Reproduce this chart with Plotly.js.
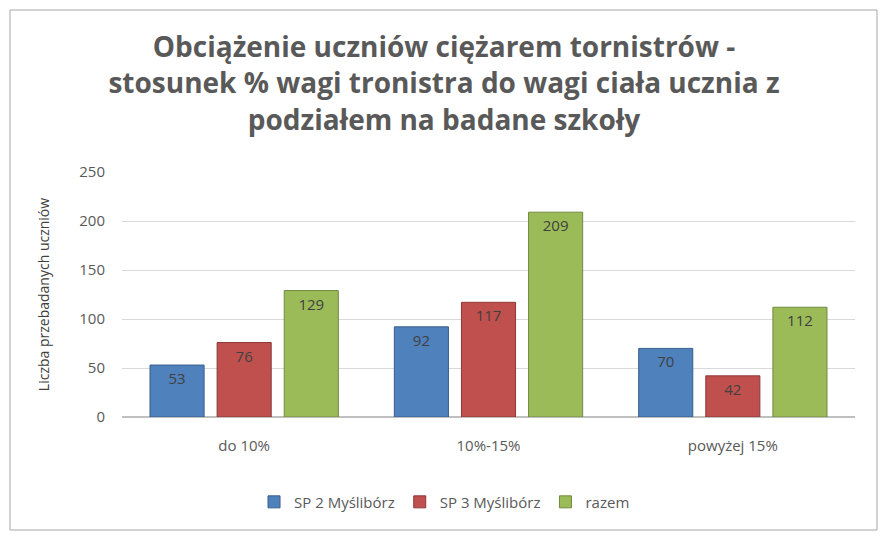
<!DOCTYPE html>
<html>
<head>
<meta charset="utf-8">
<script src="https://cdn.plot.ly/plotly-3.0.1.min.js"></script>
<style>html,body{margin:0;padding:0;background:#fff;}#chart{width:888px;height:541px;}</style>
</head>
<body>
<div id="chart"></div>
<script>
const categories = ["do 10%", "10%-15%", "powyżej 15%"];
const seriesNames = ["SP 2 Myślibórz", "SP 3 Myślibórz", "razem"];
const sp2 = [53, 92, 70];
const sp3 = [76, 117, 42];
const razem = [129, 209, 112];
const yTicks = [0, 50, 100, 150, 200, 250];

const fills = ["#4f81bd", "#c0504d", "#9bbb59"];
const lines = ["#385d8a", "#8c3836", "#71893f"];
const values = [sp2, sp3, razem];

const traces = values.map((v, i) => ({
  type: "bar",
  name: seriesNames[i],
  x: categories,
  y: v,
  text: v.map(String),
  textposition: "inside",
  insidetextanchor: "end",
  textfont: {family: "Open Sans, sans-serif", size: 15, color: "#404040"},
  marker: {color: fills[i], line: {color: lines[i], width: 1}},
  hoverinfo: "none"
}));

const L = 122, R = 33, T = 172, B = 124, W = 888 - L - R, H = 541 - T - B;
const px = x => (x - L) / W;
const py = y => (541 - B - y) / H;

const layout = {
  width: 888, height: 541,
  margin: {l: L, r: R, t: T, b: B},
  paper_bgcolor: "#ffffff", plot_bgcolor: "#ffffff",
  font: {family: "Open Sans, sans-serif", color: "#595959", size: 13},
  title: {
    text: "Obciążenie uczniów ciężarem tornistrów -<br>stosunek % wagi tronistra do wagi ciała ucznia z<br>podziałem na badane szkoły",
    font: {family: "Open Sans, sans-serif", size: 28, color: "#595959", weight: "bold"},
    x: 0.5, xanchor: "center", y: 0.895, yanchor: "top"
  },
  barmode: "group", bargap: 0.176, bargroupgap: 0.194,
  showlegend: true,
  legend: {orientation: "h", x: 0.44, xanchor: "center", y: -0.28, yanchor: "top",
           font: {size: 15, color: "#595959"}, itemwidth: 30, traceorder: "normal"},
  xaxis: {showgrid: false, showline: false, ticks: "", tickfont: {size: 15, color: "#595959"},
          ticklabelstandoff: 18},
  yaxis: {range: [0, 250], tickvals: yTicks, showgrid: true, gridcolor: "#d9d9d9", gridwidth: 1,
          zeroline: true, zerolinecolor: "#bfbfbf", zerolinewidth: 2, ticks: "",
          tickfont: {size: 15, color: "#595959"}, ticklabelstandoff: 16,
          title: {text: "Liczba przebadanych uczniów", font: {size: 14, color: "#404040"}, standoff: 26}},
  shapes: [{type: "rect", xref: "paper", yref: "paper", x0: px(10), x1: px(877), y0: py(530), y1: py(10),
            line: {color: "#a6a6a6", width: 1}, fillcolor: "rgba(0,0,0,0)", layer: "below"}]
};

Plotly.newPlot("chart", traces, layout, {staticPlot: true, displayModeBar: false});
</script>
</body>
</html>
